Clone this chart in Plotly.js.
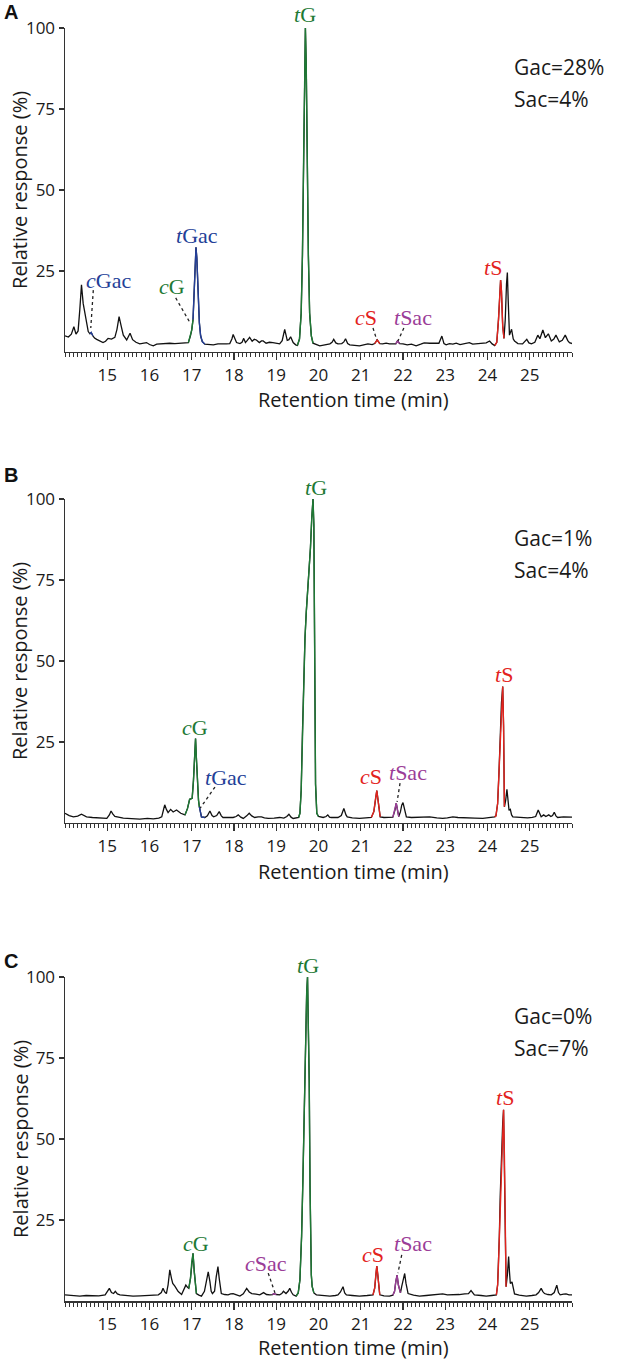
<!DOCTYPE html>
<html><head><meta charset="utf-8">
<script src="https://cdn.plot.ly/plotly-3.0.1.min.js"></script>
<style>html,body{margin:0;padding:0;background:#fff;}#chart{width:617px;height:1362px;}</style>
</head><body><div id="chart"></div>
<script>
// ---------- DATA ----------
const xTickVals = [15,16,17,18,19,20,21,22,23,24,25];
const yTickVals = [25,50,75,100];
const xTitle = 'Retention time (min)';
const yTitle = 'Relative response (%)';
const panelLetters = ['A','B','C'];
const gacText = ['Gac=28%','Gac=1%','Gac=0%'];
const sacText = ['Sac=4%','Sac=4%','Sac=7%'];

// Panel A chromatogram
const timeA = [14.00,14.08,14.15,14.21,14.26,14.31,14.35,14.39,14.43,14.47,14.51,14.55,14.59,14.62,14.66,14.70,14.75,14.82,14.90,14.96,15.02,15.10,15.18,15.23,15.28,15.33,15.38,15.46,15.54,15.60,15.68,15.77,15.85,15.93,16.00,16.09,16.17,16.25,16.35,16.48,16.60,16.72,16.84,16.92,16.97,17.00,17.03,17.06,17.08,17.10,17.12,17.15,17.18,17.21,17.25,17.31,17.40,17.51,17.62,17.72,17.82,17.90,17.95,17.98,18.02,18.06,18.14,18.19,18.23,18.27,18.31,18.37,18.43,18.48,18.53,18.60,18.65,18.69,18.76,18.84,18.92,19.00,19.08,19.14,19.20,19.26,19.30,19.34,19.40,19.46,19.50,19.55,19.59,19.62,19.65,19.67,19.69,19.71,19.73,19.76,19.79,19.83,19.87,19.95,20.03,20.15,20.27,20.32,20.36,20.41,20.46,20.55,20.60,20.64,20.69,20.74,20.85,20.97,21.07,21.17,21.27,21.33,21.39,21.45,21.52,21.60,21.68,21.76,21.83,21.87,21.92,22.00,22.10,22.20,22.31,22.42,22.50,22.63,22.75,22.85,22.92,22.97,23.02,23.10,23.18,23.26,23.35,23.45,23.57,23.65,23.75,23.89,23.97,24.05,24.11,24.17,24.22,24.26,24.29,24.31,24.33,24.36,24.39,24.42,24.45,24.47,24.49,24.52,24.57,24.61,24.64,24.72,24.83,24.93,24.98,25.04,25.12,25.19,25.24,25.31,25.37,25.44,25.51,25.57,25.62,25.70,25.77,25.84,25.90,25.94,26.00];
const respA = [5.0,4.6,5.5,7.8,5.5,6.5,13,20.7,15,12,9,6.3,5.6,6.0,5.0,4.3,3.9,3.4,2.9,3.3,4.2,4.0,4.5,7,10.9,8,5.2,3.7,5.8,3.8,3.0,2.5,2.7,2.9,2.3,1.9,2.4,2.5,2.4,2.7,2.6,2.7,2.8,2.9,5,6.8,10,20,28,32.3,29,17,9,5,3.2,2.4,2.3,2.2,2.5,2.4,2.5,2.6,4,5.4,3.8,2.9,2.6,3.0,4.2,2.9,3.5,4.5,3.3,3.9,3.7,2.9,3.4,3.4,2.7,3.0,2.9,2.6,2.5,3.5,7.0,3.6,3.8,4.7,2.9,2.2,2.0,4,12,30,62,88,100,88,62,30,12,5,2.7,2.2,1.9,2.2,2.5,3.0,3.9,2.8,2.5,2.6,3.1,4.1,2.6,2.2,2.0,1.9,2.2,2.5,2.3,2.6,3.7,2.6,2.5,2.7,2.5,2.6,2.5,3.4,2.6,2.5,2.2,2.4,1.9,2.4,2.8,2.7,2.6,2.7,4.9,2.6,2.2,2.6,2.4,2.7,2.3,2.6,2.9,2.4,2.5,2.5,2.8,3.4,2.5,2.0,3,10,19,22.2,19,8,4.2,10,21,24.5,16,5.2,7.0,4,3.4,2.6,2.5,3.9,2.8,2.5,3.0,5.2,4.1,6.8,4.4,5.6,3.4,4.0,5.2,3.1,3.6,5.2,3.5,2.9,2.6];

// Panel B chromatogram
const timeB = [14.00,14.10,14.20,14.30,14.39,14.45,14.51,14.65,14.80,14.99,15.05,15.09,15.13,15.18,15.38,15.55,15.77,15.95,16.09,16.22,16.29,16.33,16.36,16.40,16.44,16.50,16.56,16.64,16.74,16.84,16.90,16.95,17.01,17.04,17.07,17.09,17.11,17.13,17.16,17.18,17.23,17.31,17.37,17.43,17.48,17.52,17.59,17.65,17.70,17.74,17.85,17.98,18.05,18.10,18.16,18.22,18.30,18.36,18.42,18.49,18.57,18.65,18.72,18.81,18.95,19.08,19.18,19.25,19.30,19.35,19.40,19.47,19.53,19.56,19.59,19.62,19.65,19.68,19.71,19.76,19.81,19.84,19.87,19.89,19.91,19.93,19.96,20.00,20.11,20.18,20.22,20.26,20.30,20.46,20.54,20.60,20.65,20.68,20.80,20.97,21.12,21.25,21.31,21.35,21.38,21.41,21.44,21.46,21.55,21.68,21.76,21.81,21.84,21.87,21.90,21.94,21.97,22.00,22.03,22.06,22.08,22.20,22.31,22.45,22.63,22.80,22.94,23.05,23.18,23.30,23.45,23.57,23.70,23.89,24.05,24.17,24.20,24.24,24.27,24.30,24.33,24.36,24.38,24.40,24.43,24.46,24.49,24.51,24.54,24.57,24.60,24.70,24.83,24.95,25.06,25.14,25.20,25.24,25.27,25.33,25.38,25.45,25.50,25.54,25.58,25.62,25.66,25.80,25.92,26.00];
const respB = [3.0,2.3,1.9,2.1,2.7,2.3,1.9,1.7,1.6,1.4,2.5,3.7,2.8,2.0,1.5,1.3,1.2,1.4,1.3,1.5,1.9,4,5.6,4.2,3.2,4.2,3.4,4.0,3.0,2.5,4.5,7.3,7.6,13,22,26.1,20,12,7,5.0,1.9,1.7,2.2,3.7,2.3,1.9,2.3,3.5,2.2,1.7,1.6,1.7,2.0,2.5,1.8,1.4,2.2,3.0,2.2,1.7,1.9,1.9,1.6,1.4,1.5,1.7,1.5,2.0,2.7,1.8,1.4,1.5,1.7,3,10,28,45,57,65,74,85,94,100,92,50,12,3,2.0,1.7,2.0,2.5,1.8,1.7,1.7,2.3,4.5,2.5,1.9,1.6,1.4,1.6,1.7,3.5,7.5,10.0,7,3,1.9,1.7,1.7,1.8,4,6.1,4,2.0,3.5,5.5,6.3,4.5,2.4,1.9,1.7,1.7,1.9,1.9,1.6,1.4,1.6,1.9,1.7,1.7,1.7,1.5,1.4,1.6,1.9,2.2,6,15,27,37,42.1,30,5.0,7,10.4,6,3.9,4.2,2.5,1.9,1.8,1.7,1.6,1.7,2.0,4.0,2.5,1.9,2.5,2.0,2.5,2.0,2.3,3.3,2.2,1.7,1.9,1.7,1.8];

// Panel C chromatogram
const timeC = [14.00,14.15,14.35,14.50,14.67,14.80,14.95,15.01,15.05,15.10,15.15,15.19,15.24,15.30,15.45,15.61,15.78,15.93,16.08,16.21,16.28,16.32,16.36,16.40,16.44,16.48,16.52,16.55,16.60,16.64,16.68,16.76,16.82,16.86,16.90,16.93,16.97,17.00,17.03,17.06,17.09,17.11,17.17,17.23,17.30,17.35,17.39,17.43,17.46,17.49,17.54,17.58,17.62,17.65,17.68,17.70,17.78,17.86,17.92,17.98,18.06,18.14,18.22,18.30,18.36,18.42,18.52,18.61,18.70,18.77,18.85,18.91,18.95,19.00,19.08,19.13,19.17,19.23,19.28,19.32,19.36,19.40,19.47,19.52,19.56,19.60,19.63,19.66,19.69,19.72,19.74,19.76,19.78,19.80,19.81,19.83,19.85,19.89,19.95,20.10,20.27,20.40,20.46,20.52,20.58,20.62,20.66,20.80,20.97,21.15,21.29,21.33,21.36,21.38,21.40,21.43,21.45,21.55,21.68,21.76,21.80,21.83,21.86,21.89,21.92,21.94,21.97,22.01,22.04,22.07,22.10,22.12,22.25,22.39,22.55,22.71,22.85,22.94,23.05,23.18,23.33,23.46,23.55,23.61,23.65,23.69,23.85,23.97,24.10,24.21,24.24,24.26,24.28,24.30,24.33,24.36,24.38,24.40,24.42,24.44,24.47,24.50,24.52,24.54,24.58,24.61,24.64,24.75,24.92,25.05,25.15,25.21,25.27,25.31,25.35,25.43,25.51,25.58,25.64,25.68,25.72,25.80,25.86,25.93,26.00];
const respC = [1.9,1.7,1.5,1.7,1.7,1.6,1.9,3.0,3.9,2.6,2.3,3.0,2.2,1.9,1.7,1.5,1.6,1.7,1.6,1.9,2.6,3.9,2.8,2.3,5,9.6,7,5.4,4.6,3.6,2.9,2.0,3.5,4.9,4.2,3.9,7,12,14.7,9,4,2.3,1.8,1.5,3,7,9.0,6,3,2.3,3,7.5,10.6,7,3.5,2.3,2.0,1.9,2.2,2.3,1.9,1.5,2.2,3.9,2.8,2.3,2.1,1.9,2.6,2.0,1.9,2.0,2.3,2.0,1.9,2.3,3.0,2.3,3.0,3.9,2.7,1.9,1.5,2.5,6.5,20,37,58,78.5,95,100,88,68,35,16.8,8,4.5,2.5,1.9,1.7,1.5,1.7,1.9,2.8,4.4,2.5,1.9,1.7,1.5,1.7,1.9,4,8.5,10.8,8.5,4,1.9,1.6,1.5,1.8,3,6,8.0,5,2.7,2.5,4.5,7.5,8.5,5.5,3,2.3,1.8,1.5,1.7,1.9,2.0,2.2,1.9,1.9,2.0,2.2,2.3,3.2,2.4,1.9,1.7,1.5,1.7,1.9,5,11.6,20,32,45,55,59,45,20,4.4,8,13.7,9,5.4,5.9,3.5,2.2,1.8,1.5,1.7,1.9,2.6,3.9,2.9,2.3,2.0,1.9,2.6,4.9,2.6,1.9,2.1,2.2,1.9,1.9];

// Identified peaks: [label, family, start time, end time]
const peaksA = [['cGac','Gac',14.59,14.66],['cG','G',16.92,17.03],['tGac','Gac',17.03,17.31],['tG','G',19.50,19.87],['cS','S',21.33,21.45],['tSac','Sac',21.83,21.92],['tS','S',24.17,24.39]];
const peaksB = [['cG','G',16.84,17.18],['tGac','Gac',17.18,17.31],['tG','G',19.53,20.00],['cS','S',21.25,21.46],['tSac','Sac',21.76,21.90],['tS','S',24.17,24.40]];
const peaksC = [['cG','G',16.93,17.11],['cSac','Sac',18.91,19.00],['tG','G',19.47,19.89],['cS','S',21.29,21.45],['tSac','Sac',21.76,21.94],['tS','S',24.21,24.44]];

// ---------- STYLE / LAYOUT ----------
const famColor = {G:'#1e7a35', Gac:'#243f98', S:'#e3231d', Sac:'#9b3d98'};
const labelHTML = {cG:'<i>c</i>G', tG:'<i>t</i>G', cGac:'<i>c</i>Gac', tGac:'<i>t</i>Gac', cS:'<i>c</i>S', tS:'<i>t</i>S', cSac:'<i>c</i>Sac', tSac:'<i>t</i>Sac'};
const famOf = {cG:'G', tG:'G', cGac:'Gac', tGac:'Gac', cS:'S', tS:'S', cSac:'Sac', tSac:'Sac'};

// label placements per panel (x in minutes, y in % of axis height): [label, x, y, leader(optional)]
const labPos = [
  [['tG',19.68,104.3],['tGac',17.13,36.1],['cGac',15.02,22.2,[14.67,19.1,14.61,7.4]],['cG',16.54,20.1,[16.62,16.7,16.96,9.0]],['cS',21.12,10.5,[21.29,7.4,21.38,3.7]],['tSac',22.23,10.5,[22.02,7.4,21.88,3.4]],['tS',24.12,26.2]],
  [['tG',19.94,103.4],['cG',17.08,29.6],['tGac',17.81,13.9,[17.55,11.1,17.20,4.6]],['cS',21.24,14.2],['tSac',22.11,15.7,[21.93,12.3,21.86,6.5]],['tS',24.38,45.7]],
  [['tG',19.75,103.7],['cG',17.10,17.9],['cSac',18.76,11.7,[18.81,8.6,18.97,2.5]],['cS',21.29,14.2],['tSac',22.23,17.9,[21.97,14.2,21.88,8.6]],['tS',24.41,62.7]]
];
const letterY = [1.05, 1.074, 1.049];
const xTitleY = [-0.148, -0.150, -0.145];

const panels = [[timeA,respA,peaksA],[timeB,respB,peaksB],[timeC,respC,peaksC]];
const traces = [];
const annotations = [];
const shapes = [];
const axisColor = '#333';
const textColor = '#1a1a1a';
const sansFont = 'Open Sans, Noto Sans, sans-serif';
const serifFont = 'Liberation Serif, DejaVu Serif, serif';

panels.forEach((p, i) => {
  const [t, r, peaks] = p;
  const xa = i === 0 ? 'x' : 'x' + (i + 1);
  const ya = i === 0 ? 'y' : 'y' + (i + 1);
  const yd = ya + ' domain';
  traces.push({x: t, y: r, xaxis: xa, yaxis: ya, type: 'scatter', mode: 'lines',
    line: {color: '#111', width: 1.3}, hoverinfo: 'skip'});
  peaks.forEach(pk => {
    const [name, fam, a, b] = pk;
    const xs = [], ys = [];
    t.forEach((v, k) => { if (v >= a - 1e-9 && v <= b + 1e-9) { xs.push(v); ys.push(r[k]); } });
    traces.push({x: xs, y: ys, xaxis: xa, yaxis: ya, type: 'scatter', mode: 'lines',
      line: {color: famColor[fam], width: 1.4}, name: name, hoverinfo: 'skip'});
  });
  labPos[i].forEach(L => {
    const [name, lx, ly, leader] = L;
    annotations.push({xref: xa, yref: yd, x: lx, y: ly / 100, text: labelHTML[name], showarrow: false,
      xanchor: 'center', yanchor: 'middle', font: {family: serifFont, size: 22, color: famColor[famOf[name]]}});
    if (leader) {
      shapes.push({type: 'line', xref: xa, yref: ya, x0: leader[0], y0: leader[1], x1: leader[2], y1: leader[3],
        line: {color: '#222', width: 1.3, dash: 'dot'}});
    }
  });
  annotations.push({xref: xa, yref: yd, x: 24.57, y: 0.88, text: gacText[i], showarrow: false,
    xanchor: 'left', yanchor: 'middle', font: {family: sansFont, size: 21, color: textColor}});
  annotations.push({xref: xa, yref: yd, x: 24.57, y: 0.78, text: sacText[i], showarrow: false,
    xanchor: 'left', yanchor: 'middle', font: {family: sansFont, size: 21, color: textColor}});
  annotations.push({xref: 'paper', yref: yd, x: -0.107, y: letterY[i], text: '<b>' + panelLetters[i] + '</b>', showarrow: false,
    xanchor: 'center', yanchor: 'middle', font: {family: 'Liberation Sans, Arial, sans-serif', size: 20, color: '#111'}});
  // axis titles
  annotations.push({xref: xa, yref: yd, x: 20.84, y: xTitleY[i], text: xTitle, showarrow: false, borderpad: 0,
    xanchor: 'center', yanchor: 'middle', font: {family: sansFont, size: 20, color: textColor}});
  annotations.push({xref: 'paper', yref: yd, x: -0.0888, y: 0.5, text: yTitle, showarrow: false, textangle: -90, borderpad: 0,
    xanchor: 'center', yanchor: 'middle', font: {family: sansFont, size: 20, color: textColor}});
});

function xAxis(anchor) {
  return {anchor: anchor, range: [14, 26], tickmode: 'array', tickvals: xTickVals, ticks: 'outside', ticklen: 7, tickwidth: 1.3,
    tickcolor: axisColor, showline: true, linecolor: axisColor, linewidth: 1.5, showgrid: false, zeroline: false,
    minor: {dtick: 0.1, tick0: 14, ticks: 'outside', ticklen: 4, tickwidth: 1, tickcolor: axisColor, showgrid: false},
    tickfont: {family: sansFont, size: 17, color: textColor}, fixedrange: true};
}
function yAxis(anchor, dom) {
  return {anchor: anchor, domain: dom, range: [0, 100], tickmode: 'array', tickvals: yTickVals, ticks: 'outside', ticklen: 5, tickwidth: 1.3,
    tickcolor: axisColor, showline: true, linecolor: axisColor, linewidth: 1.5, showgrid: false, zeroline: false,
    tickfont: {family: sansFont, size: 17, color: textColor}, fixedrange: true};
}

const layout = {
  width: 617, height: 1362,
  margin: {l: 65, r: 45, t: 28, b: 61},
  paper_bgcolor: '#fff', plot_bgcolor: '#fff',
  showlegend: false,
  xaxis: xAxis('y'), xaxis2: xAxis('y2'), xaxis3: xAxis('y3'),
  yaxis: yAxis('x', [0.7455, 1]), yaxis2: yAxis('x2', [0.3755, 0.6300]), yaxis3: yAxis('x3', [0, 0.2545]),
  annotations: annotations, shapes: shapes
};

Plotly.newPlot('chart', traces, layout, {displayModeBar: false, staticPlot: true});
</script>
</body></html>
